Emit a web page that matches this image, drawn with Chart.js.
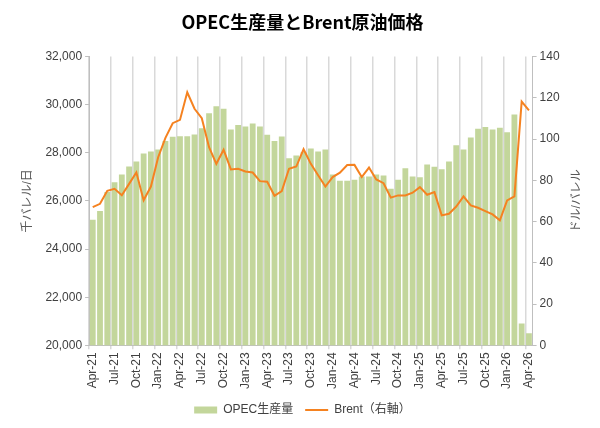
<!DOCTYPE html>
<html>
<head>
<meta charset="utf-8">
<script src="https://cdn.jsdelivr.net/npm/chart.js@4"></script>
<style>
html,body{margin:0;padding:0;background:#fff;}
#wrap{width:600px;height:428px;position:relative;}
</style>
</head>
<body>
<div id="wrap"><canvas id="c" width="600" height="428"></canvas></div>
<script>
const months = ["Apr-21","May-21","Jun-21","Jul-21","Aug-21","Sep-21","Oct-21","Nov-21","Dec-21",
"Jan-22","Feb-22","Mar-22","Apr-22","May-22","Jun-22","Jul-22","Aug-22","Sep-22","Oct-22","Nov-22","Dec-22",
"Jan-23","Feb-23","Mar-23","Apr-23","May-23","Jun-23","Jul-23","Aug-23","Sep-23","Oct-23","Nov-23","Dec-23",
"Jan-24","Feb-24","Mar-24","Apr-24","May-24","Jun-24","Jul-24","Aug-24","Sep-24","Oct-24","Nov-24","Dec-24",
"Jan-25","Feb-25","Mar-25","Apr-25","May-25","Jun-25","Jul-25","Aug-25","Sep-25","Oct-25","Nov-25","Dec-25",
"Jan-26","Feb-26","Mar-26","Apr-26"];

const opecProduction = [25220,25580,26370,26780,27100,27430,27640,27970,28060,28140,
28490,28670,28690,28690,28760,29020,29650,29940,29830,28970,
29160,29090,29220,29090,28750,28490,28680,27770,27890,28030,
28180,28060,28140,27100,26840,26840,26880,27020,27020,27100,
27060,26510,26880,27360,27020,26990,27520,27420,27320,27640,
28320,28140,28640,29000,29070,28970,29040,28860,29590,20910,20500];

const brentPrice = [67.0,68.6,74.9,75.9,72.8,78.3,83.8,70.3,77.0,91.2,
100.6,107.7,109.3,122.7,114.7,110.1,96.1,88.0,94.8,85.3,
85.6,84.3,83.8,79.6,79.3,72.5,74.8,85.6,86.7,95.1,
88.0,82.5,77.0,81.6,83.7,87.4,87.5,81.6,86.2,80.4,
78.6,71.6,72.7,72.7,74.0,76.7,73.0,74.3,63.0,63.8,
67.3,72.2,67.8,66.7,65.1,63.5,60.6,70.3,72.2,118.2,113.9];

const chartTitle = "OPEC生産量とBrent原油価格";
const leftAxisTitle = "千バレル/日";
const rightAxisTitle = "ドル/バレル";
const seriesNames = ["OPEC生産量", "Brent（右軸）"];

const FONT = "'Liberation Sans', 'Noto Sans CJK JP', sans-serif";
const GRID = "#d9d9d9";
const AXIS = "#bfbfbf";
const TXT = "#404040";

const rightTitlePlugin = {
  id: 'rightTitle',
  afterDraw(chart) {
    const ctx = chart.ctx;
    const area = chart.chartArea;
    ctx.save();
    ctx.translate(577, (area.top + area.bottom) / 2);
    ctx.rotate(-Math.PI / 2);
    ctx.font = "12px " + FONT;
    ctx.fillStyle = "#595959";
    ctx.textAlign = "center";
    ctx.textBaseline = "middle";
    ctx.fillText(rightAxisTitle, 0, 0);
    ctx.restore();
  }
};

new Chart(document.getElementById('c'), {
  data: {
    labels: months,
    datasets: [
      {
        type: 'line',
        label: seriesNames[1],
        data: brentPrice,
        yAxisID: 'y1',
        borderColor: '#F58220',
        backgroundColor: '#F58220',
        borderWidth: 2,
        pointRadius: 0,
        pointStyle: 'line',
        tension: 0,
        order: 0
      },
      {
        type: 'bar',
        label: seriesNames[0],
        data: opecProduction,
        yAxisID: 'y',
        backgroundColor: '#C3D69B',
        borderWidth: 0,
        pointStyle: 'rect',
        categoryPercentage: 1.0,
        barPercentage: 0.8,
        order: 1
      }
    ]
  },
  options: {
    responsive: false,
    animation: false,
    layout: { padding: { top: 7, left: 20, right: 15, bottom: 2 } },
    plugins: {
      title: {
        display: true,
        text: chartTitle,
        color: '#000',
        font: { family: "'Noto Sans CJK JP', sans-serif", size: 18, weight: 'bold' },
        padding: { top: 4, bottom: 24 }
      },
      legend: {
        position: 'bottom',
        reverse: true,
        labels: {
          usePointStyle: true,
          pointStyleWidth: 23,
          boxHeight: 7,
          padding: 12,
          color: TXT,
          font: { family: FONT, size: 12 }
        }
      },
      tooltip: { enabled: false }
    },
    scales: {
      x: {
        grid: {
          offset: true,
          color: (c) => (c.index % 3 === 0 ? GRID : 'rgba(0,0,0,0)'),
          lineWidth: 1.5,
          tickLength: 4
        },
        border: { color: AXIS },
        ticks: {
          autoSkip: false,
          maxRotation: 90,
          minRotation: 90,
          color: TXT,
          font: { family: FONT, size: 12 },
          callback: function(v, i) { return i % 3 === 0 ? months[i] : ''; }
        }
      },
      y: {
        position: 'left',
        min: 20000,
        max: 32000,
        grid: { drawOnChartArea: false, color: AXIS, tickLength: 4 },
        border: { color: AXIS },
        ticks: {
          stepSize: 2000,
          color: TXT,
          font: { family: FONT, size: 12 },
          callback: (v) => v.toLocaleString('en-US')
        },
        title: {
          display: true,
          text: leftAxisTitle,
          color: '#595959',
          font: { family: FONT, size: 12 },
          padding: { top: 0, bottom: 8 }
        }
      },
      y1: {
        position: 'right',
        min: 0,
        max: 140,
        grid: { drawOnChartArea: false, color: AXIS, tickLength: 4 },
        border: { color: AXIS },
        ticks: {
          stepSize: 20,
          color: TXT,
          font: { family: FONT, size: 12 }
        },
        title: {
          display: true,
          text: rightAxisTitle,
          color: 'rgba(0,0,0,0)',
          font: { family: FONT, size: 12 },
          padding: { top: 4, bottom: 4 }
        }
      }
    }
  },
  plugins: [rightTitlePlugin]
});
</script>
</body>
</html>
